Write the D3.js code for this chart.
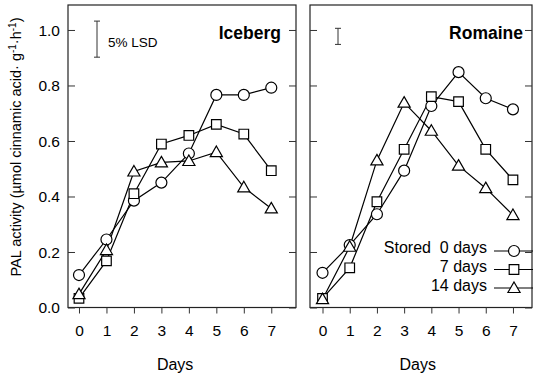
<!DOCTYPE html>
<html>
<head>
<meta charset="utf-8">
<script src="https://cdn.jsdelivr.net/npm/d3@7"></script>
<style>
  body { margin: 0; background: #fff; }
  svg { display: block; font-family: "Liberation Sans", Arial, sans-serif; }
</style>
</head>
<body>
<div id="chart"></div>
<script>
// PAL activity, iceberg vs romaine lettuce, by days after storage
const days = [0, 1, 2, 3, 4, 5, 6, 7];
const yTicks = [0, 0.2, 0.4, 0.6, 0.8, 1.0];

const iceberg0 = [0.117, 0.245, 0.385, 0.45, 0.555, 0.766, 0.766, 0.792];
const iceberg7 = [0.033, 0.168, 0.41, 0.589, 0.62, 0.66, 0.625, 0.493];
const iceberg14 = [0.048, 0.207, 0.49, 0.523, 0.528, 0.56, 0.433, 0.357];

const romaine0 = [0.125, 0.225, 0.336, 0.493, 0.726, 0.848, 0.754, 0.714];
const romaine7 = [0.033, 0.143, 0.381, 0.57, 0.76, 0.742, 0.57, 0.46];
const romaine14 = [0.03, 0.219, 0.53, 0.738, 0.637, 0.511, 0.43, 0.333];

const seriesNames = ["Stored  0 days", "7 days", "14 days"];
const seriesShapes = ["circle", "square", "triangle"];

const lsd = { Iceberg: 0.13, Romaine: 0.058 };

const W = 533, H = 375;
const svg = d3.select("#chart").append("svg").attr("width", W).attr("height", H);

const y = d3.scaleLinear().domain([0, 1.09]).range([307.5, 5]);

const panels = [
  { name: "Iceberg", data: [iceberg0, iceberg7, iceberg14], x0: 68, x1: 296, dom: [-0.4, 7.9] },
  { name: "Romaine", data: [romaine0, romaine7, romaine14], x0: 310, x1: 532, dom: [-0.46, 7.7] },
];

const symbolFor = {
  circle: d3.symbol(d3.symbolCircle, 95),
  square: d3.symbol(d3.symbolSquare, 92),
  triangle: d3.symbol(d3.symbolTriangle, 64),
};

function drawMarker(g, shape, cx, cy) {
  g.append("path")
    .attr("d", symbolFor[shape]())
    .attr("transform", `translate(${cx},${cy + (shape === "triangle" ? 1 : 0)})`)
    .attr("fill", "#fff")
    .attr("stroke", "#000")
    .attr("stroke-width", 1.2);
}

panels.forEach((p, pi) => {
  const x = d3.scaleLinear().domain(p.dom).range([p.x0, p.x1]);
  const g = svg.append("g");

  // frame
  g.append("rect")
    .attr("x", p.x0).attr("y", y.range()[1])
    .attr("width", p.x1 - p.x0).attr("height", y.range()[0] - y.range()[1])
    .attr("fill", "none").attr("stroke", "#222").attr("stroke-width", 1.2);

  // y ticks inward on both sides
  const left = g.append("g").attr("transform", `translate(${p.x0},0)`)
    .call(d3.axisRight(y).tickValues(yTicks).tickSize(7).tickFormat(""));
  const right = g.append("g").attr("transform", `translate(${p.x1},0)`)
    .call(d3.axisLeft(y).tickValues(yTicks).tickSize(7).tickFormat(""));
  [left, right].forEach(a => { a.select(".domain").remove(); a.selectAll("line").attr("stroke", "#333"); });

  if (pi === 0) {
    g.selectAll(".ylab").data(yTicks).join("text")
      .attr("x", p.x0 - 8).attr("y", d => y(d))
      .attr("dy", "0.36em").attr("text-anchor", "end")
      .attr("font-size", 15.5).text(d => d.toFixed(1));
  }

  // x axis ticks outward
  const xa = g.append("g").attr("transform", `translate(0,${y.range()[0]})`)
    .call(d3.axisBottom(x).tickValues(days).tickSize(6).tickPadding(11));
  xa.select(".domain").remove();
  xa.selectAll("line").attr("stroke", "#333");
  xa.selectAll("text").attr("font-size", 15.5).attr("font-family", "Liberation Sans, Arial, sans-serif").attr("fill", "#000");

  g.append("text")
    .attr("x", (x(0) + x(7)) / 2).attr("y", 370)
    .attr("text-anchor", "middle").attr("font-size", 16).text("Days");

  // panel title
  g.append("text")
    .attr("x", pi === 0 ? 281 : 523).attr("y", 38.5)
    .attr("text-anchor", "end").attr("font-size", 17.5)
    .attr("font-weight", "bold").text(p.name);

  // LSD bar
  const lx = pi === 0 ? 97 : 338;
  const ltop = pi === 0 ? y(1.032) : y(1.006);
  const lbot = ltop + (y(0) - y(lsd[p.name]));
  const lsdG = g.append("g").attr("stroke", "#333").attr("stroke-width", 1);
  lsdG.append("line").attr("x1", lx).attr("x2", lx).attr("y1", ltop).attr("y2", lbot);
  lsdG.append("line").attr("x1", lx - 3).attr("x2", lx + 3).attr("y1", ltop).attr("y2", ltop);
  lsdG.append("line").attr("x1", lx - 3).attr("x2", lx + 3).attr("y1", lbot).attr("y2", lbot);
  if (pi === 0) {
    g.append("text").attr("x", 108).attr("y", 47).attr("font-size", 13.5).text("5% LSD");
  }

  // series
  const line = d3.line().x((d, i) => x(days[i])).y(d => y(d));
  p.data.forEach((vals, si) => {
    g.append("path").datum(vals)
      .attr("d", line).attr("fill", "none")
      .attr("stroke", "#000").attr("stroke-width", 1.2);
  });
  p.data.forEach((vals, si) => {
    vals.forEach((v, i) => drawMarker(g, seriesShapes[si], x(days[i]), y(v)));
  });

  // legend in right panel
  if (pi === 1) {
    const textY = [252.5, 271.5, 290.5];
    const lineY = [251, 269.5, 288];
    seriesNames.forEach((name, si) => {
      g.append("text")
        .attr("x", 487).attr("y", textY[si])
        .attr("text-anchor", "end").attr("font-size", 16)
        .attr("xml:space", "preserve").style("white-space", "pre")
        .text(name);
      g.append("line")
        .attr("x1", 494).attr("x2", 533).attr("y1", lineY[si]).attr("y2", lineY[si])
        .attr("stroke", "#000").attr("stroke-width", 1.2);
      drawMarker(g, seriesShapes[si], 514, lineY[si]);
    });
  }
});

// y axis title
const yt = svg.append("text")
  .attr("transform", `translate(21,147) rotate(-90)`)
  .attr("text-anchor", "middle").attr("font-size", 14.5);
yt.append("tspan").text("PAL activity (\u00b5mol cinnamic acid\u00b7 g");
yt.append("tspan").attr("baseline-shift", "super").attr("font-size", 10).text("-1");
yt.append("tspan").text("\u00b7h");
yt.append("tspan").attr("baseline-shift", "super").attr("font-size", 10).text("-1");
yt.append("tspan").text(")");
</script>
</body>
</html>
